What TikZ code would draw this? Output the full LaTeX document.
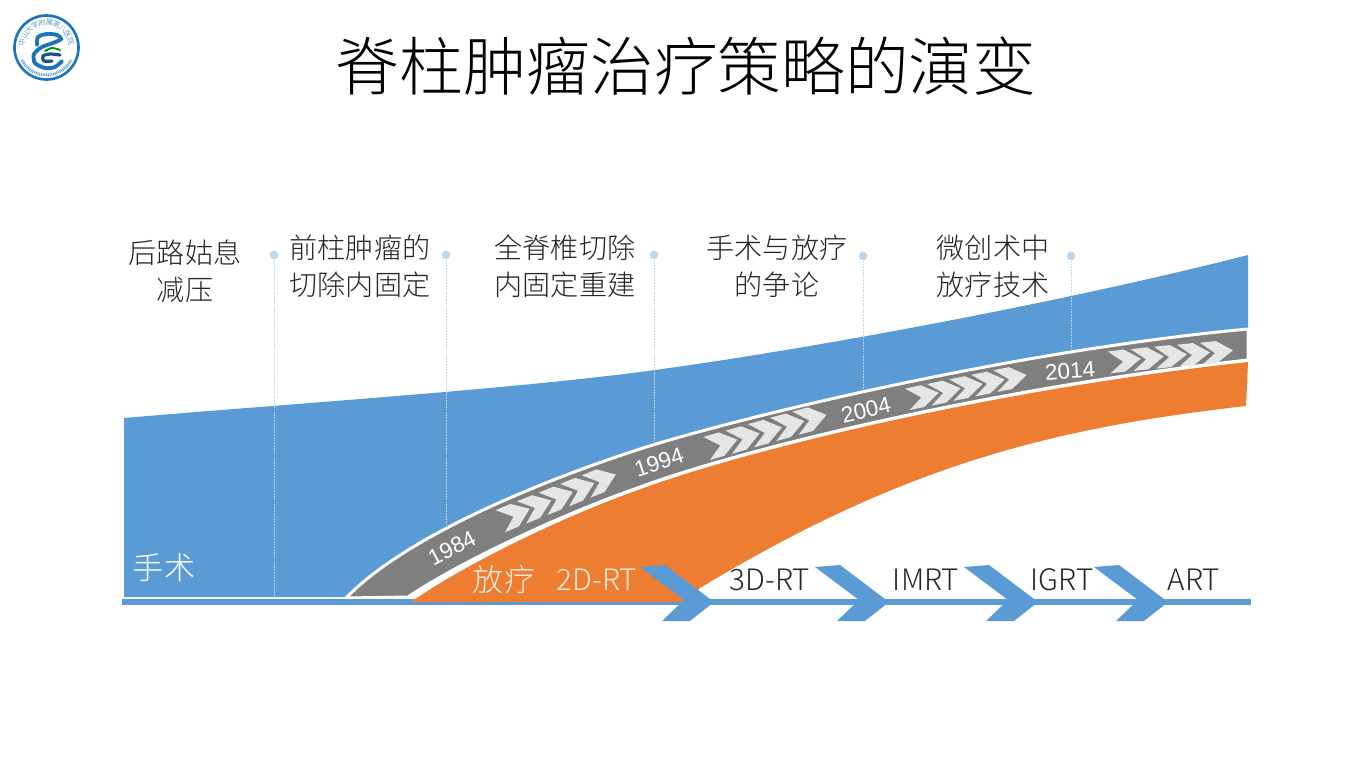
\documentclass[tikz,border=0pt]{standalone}
\usepackage{fontspec}
\setmainfont{Noto Sans CJK SC}[UprightFont=* Light]
\newfontfamily\yearfont{Liberation Sans}
\usetikzlibrary{positioning}
\definecolor{BandBlue}{HTML}{5B9BD5}
\definecolor{BandOrange}{HTML}{ED7D31}
\definecolor{BandGray}{HTML}{7F7F7F}
\definecolor{MarkGray}{HTML}{E7E6E6}
\definecolor{LeadBlue}{HTML}{BDD7EE}
\definecolor{LogoBlue}{HTML}{1C75BC}

\begin{document}
\begin{tikzpicture}[x=0.02cm,y=-0.02cm]
	\tikzstyle{Title}	= [font=\fontsize{36.25}{40}\selectfont, text=black, inner sep=0pt]
	\tikzstyle{Stage}	= [font=\fontsize{16}{21}\selectfont, text=black!85, align=center, inner sep=0pt]
	\tikzstyle{Method}	= [font=\fontsize{16.8}{20}\selectfont, text=black!85, inner sep=0pt]
	\tikzstyle{OnBand}	= [font=\fontsize{17.7}{20}\selectfont, text=white, inner sep=0pt]
	\tikzstyle{Year}	= [font=\yearfont\fontsize{12.8}{14}\selectfont, text=white, inner sep=0pt]
	\tikzstyle{Dot}		= [circle, fill=LeadBlue, minimum size=5pt, inner sep=0pt]
	\tikzstyle{Lead}	= [LeadBlue, line width=0.4pt, dash pattern=on 1pt off 0.6pt]
	\tikzstyle{Mark}	= [fill=MarkGray]
	\tikzstyle{Head}	= [fill=BandBlue]
	\tikzstyle{Gap}		= [draw=white, line width=1.7pt]

	\useasboundingbox (0,0) rectangle (1346,765);

	% bands
	\fill [BandBlue] (124,418) .. controls (300,403) and (500,390) .. (640,372) .. controls (800,351) and (1060,303) .. (1248,255)
		-- (1248,330) .. controls (1000,352) and (720,423) .. (640,449) .. controls (520,488) and (400,542) .. (346,597) -- (124,597) -- cycle;
	\draw [Gap, fill=BandGray] (346,598) .. controls (400,542) and (520,488) .. (640,449) .. controls (720,423) and (1000,352) .. (1248,329)
		-- (1248,360) .. controls (990,388) and (740,450) .. (640,487) .. controls (560,515) and (460,562) .. (408,597) -- cycle;
	\draw [BandBlue, line width=3.4pt] (122,602) -- (1251,602);
	\fill [BandOrange] (411,602) .. controls (462,566) and (561,517) .. (641,489) .. controls (740,452) and (990,390) .. (1248,362)
		-- (1246,406) .. controls (1050,428) and (900,467) .. (700,588) -- (685,602) -- cycle;

	% arrow marks along the bands
	\foreach \cx/\cy/\ca/\h in {515/515/23/12, 536.5/506.4/22/12, 558/497.8/22/12, 579.5/489.1/22/12, 601/480.5/22/12,
		722/444/16/12, 744.2/437.8/16/12, 766.5/431.5/15/12, 788.8/425.2/15/12, 811/419/15/12,
		923/396/12/11, 945/391.5/12/11, 967/387/11/11, 989/382.5/11/11, 1011/378/11/11,
		1125/360.5/7/11, 1148/358.2/7/11, 1171/356/6/11, 1194/354/6/11, 1217/352/6/11}
		\fill [Mark, shift={(\cx,\cy)}, rotate=\ca] (-16,-\h) -- (0,-\h) -- (16,0) -- (-1,\h) -- (-16,\h) -- (-2,1) -- cycle;

	% arrowheads on the base line
	\foreach \hx in {714,889,1038,1168}
		\fill [Head] (\hx-74,567) -- (\hx-49,565) -- (\hx,602) -- (\hx-24,621) -- (\hx-52,621) -- (\hx-30,600) -- cycle;

	% stages and their leaders
	\node (s1) at (185,271) [Stage] {后路姑息\\减压};
	\node (s2) at (360,266) [Stage] {前柱肿瘤的\\切除内固定};
	\node (s3) at (565,266) [Stage] {全脊椎切除\\内固定重建};
	\node (s4) at (777,266) [Stage] {手术与放疗\\的争论};
	\node (s5) at (993,266) [Stage] {微创术中\\放疗技术};

	\node (d1) at (274,255) [Dot] {};
	\node (d2) at (446,255) [Dot] {};
	\node (d3) at (654,255) [Dot] {};
	\node (d4) at (863,256) [Dot] {};
	\node (d5) at (1071,256) [Dot] {};
	\coordinate (e1) at (274,596);
	\coordinate (e2) at (446,525);
	\coordinate (e3) at (654,444);
	\coordinate (e4) at (863,389);
	\coordinate (e5) at (1071,349);
	\foreach \i in {1,...,5}
		\draw [Lead] (d\i) -- (e\i);

	% years
	\node (y1) at (452,548) [Year, rotate=27] {1984};
	\node (y2) at (659,462) [Year, rotate=18] {1994};
	\node (y3) at (866,410) [Year, rotate=13] {2004};
	\node (y4) at (1070,371) [Year, rotate=4] {2014};

	% texts
	\node (title) at (686,66) [Title] {脊柱肿瘤治疗策略的演变};
	\node (surgery) at (164,568) [OnBand] {手术};
	\node (radio) at (504,580) [OnBand, text=white!85!BandOrange] {放疗};
	\node (m1) at (597,580) [Method, text=white!85!BandOrange] {2D-RT};
	\node (m2) at (770,580) [Method] {3D-RT};
	\node (m3) at (926,580) [Method] {IMRT};
	\node (m4) at (1062,580) [Method] {IGRT};
	\node (m5) at (1194,580) [Method] {ART};

	% badge
	\draw [LogoBlue, line width=1.5pt, fill=white] (46.5,47.5) circle (32);
	\draw [LogoBlue!70, line width=1.6pt, dash pattern=on 0.5pt off 0.5pt] (22,60) arc [start angle=207, end angle=333, radius=27.5, y radius=-27.5];
	\foreach \ch [count=\i] in {中,山,大,学,附,属,第,八,医,院}
		\node (c\i) at ({46.5+25*cos(168-(\i-1)*17)},{47.5-25*sin(168-(\i-1)*17)}) [font=\fontsize{4.2}{5}\selectfont, text=LogoBlue, inner sep=0pt, rotate=78-(\i-1)*17] {\ch};
	\draw [LogoBlue, line width=2.2pt, line cap=round] plot [smooth] coordinates {(37,45) (38,37) (47,34) (57,35) (61,39) (53,43) (42,47) (34,54) (35,63) (45,68) (55,67) (62,61)};
	\draw [LogoBlue!70!black, line width=1.8pt, line cap=round] plot [smooth] coordinates {(60,55) (50,54) (43,56) (44,61) (52,61)};
	\draw [green!60!black, line width=1.1pt, line cap=round] plot [smooth] coordinates {(45,51) (52,48) (60,50)};
\end{tikzpicture}
\end{document}
